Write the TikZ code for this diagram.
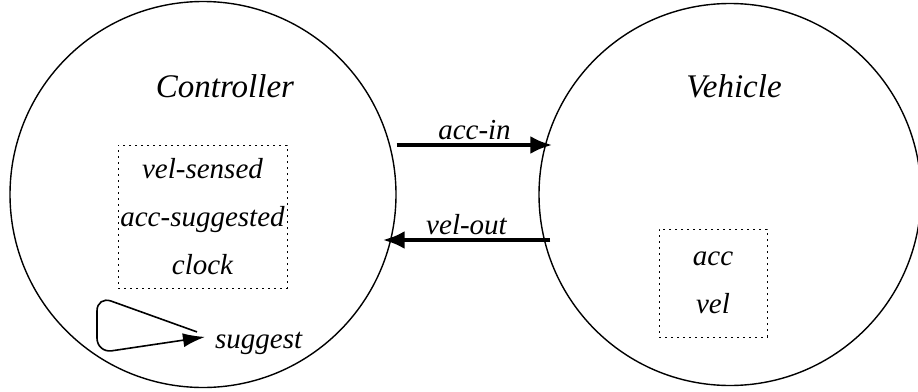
\documentclass[tikz,border=0pt]{standalone}
\usepackage{fontspec}
\setmainfont{Liberation Serif}
\usetikzlibrary{arrows.meta}
\tikzset{
  agent/.style={circle, draw=black, line width=1.4pt, inner sep=0pt},
  title/.style={font=\fontsize{33}{40}\selectfont\itshape, anchor=base},
  varbox/.style={draw=black, line width=1pt, dash pattern=on 2pt off 4pt, align=center, inner sep=0pt, font=\fontsize{29}{48}\selectfont\itshape},
  lbl/.style={font=\fontsize{29}{35}\selectfont\itshape},
  flow/.style={-{Latex[length=22pt,width=18pt]}, line width=4pt},
  loopline/.style={-{Latex[length=22pt,width=14pt]}, line width=1.6pt, rounded corners=15pt}
}
\begin{document}
\begin{tikzpicture}[x=1pt, y=-1pt]
\useasboundingbox (0,0) rectangle (918,391);
% the two agents
\node[agent, minimum size=386pt] (ctrl) at (203,194.5) {};
\node[agent, minimum size=382pt] (veh) at (730,194.5) {};
\node[title] (ctrlname) at (225,97) {Controller};
\node[title] (vehname) at (734,97) {Vehicle};
% state variables
\node[varbox, minimum width=169pt, minimum height=143pt] (ctrlvars) at (202.5,216.5) {vel-sensed\\acc-suggested\\clock};
\node[varbox, minimum width=108pt, minimum height=108pt] (vehvars) at (713,283) {acc\\vel};
% channels
\draw[flow] ([yshift=49.5pt]ctrl.east) -- ([xshift=14pt,yshift=49.5pt]veh.west) node[lbl, midway, above] {acc-in};
\draw[flow] ([xshift=12pt,yshift=-45.5pt]veh.west) -- ([xshift=-14pt,yshift=-45.5pt]ctrl.east) node[lbl, midway, above] {vel-out};
% internal action
\node[lbl, anchor=base west, inner sep=0pt] (sug) at (215,348) {suggest};
\draw[loopline] ([xshift=-18pt,yshift=11pt]sug.west) -- (97,296) -- (97,353) -- ([xshift=-10pt,yshift=6pt]sug.west);
\end{tikzpicture}
\end{document}
